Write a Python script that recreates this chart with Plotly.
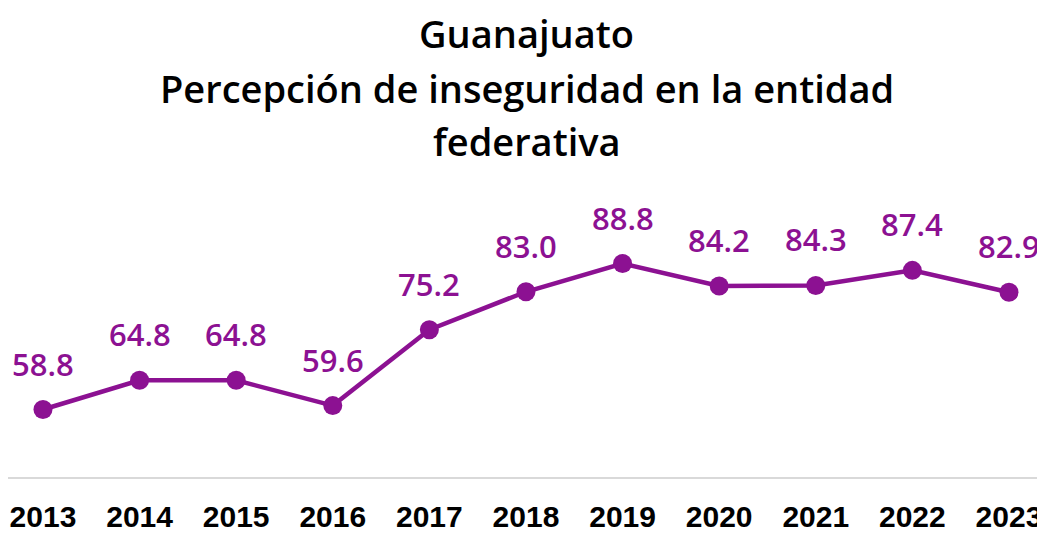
import plotly.graph_objects as go

years = ["2013", "2014", "2015", "2016", "2017", "2018", "2019", "2020", "2021", "2022", "2023"]
values = [58.8, 64.8, 64.8, 59.6, 75.2, 83.0, 88.8, 84.2, 84.3, 87.4, 82.9]
labels = ["58.8", "64.8", "64.8", "59.6", "75.2", "83.0", "88.8", "84.2", "84.3", "87.4", "82.9"]
title_lines = ["Guanajuato", "Percepción de inseguridad en la entidad", "federativa"]

purple = "#8C1192"
xs = list(range(len(years)))

fig = go.Figure()
fig.add_trace(go.Scatter(
    x=xs, y=values, mode="lines+markers",
    line=dict(color=purple, width=4.5),
    marker=dict(color=purple, size=19),
    hoverinfo="skip", showlegend=False,
))

for xi, v, lab in zip(xs, values, labels):
    fig.add_annotation(x=xi, y=v, text=lab, showarrow=False, yshift=46,
                       font=dict(family="Open Sans", size=31, color=purple, weight=600))

title_y = [33, 88, 141]
for line, py in zip(title_lines, title_y):
    fig.add_annotation(xref="paper", yref="paper", x=0.5, y=1, text=line, showarrow=False,
                       yanchor="middle", yshift=200 - py,
                       font=dict(family="Open Sans", size=38, color="#000000", weight=600))

fig.update_layout(
    width=1037, height=525,
    margin=dict(l=0, r=0, t=192, b=53),
    paper_bgcolor="white", plot_bgcolor="white",
    xaxis=dict(range=[-0.362, 10.373], tickmode="array", tickvals=xs, ticktext=years,
               showgrid=False, zeroline=False, showline=False, ticks="",
               ticklabelstandoff=18,
               tickfont=dict(family="Liberation Sans", size=30, color="#000000", weight="bold")),
    yaxis=dict(range=[44.72, 101.86], visible=False),
    shapes=[dict(type="line", xref="paper", yref="paper", x0=0, x1=1, y0=0, y1=0,
                 line=dict(color="#D9D9D9", width=2))],
)

fig.write_html("out.html")
